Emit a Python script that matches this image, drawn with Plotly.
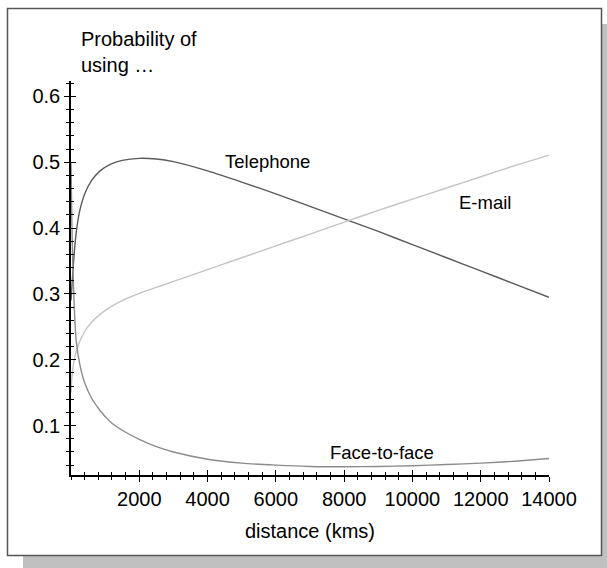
import plotly.graph_objects as go

# ---- data ----
distance = [0, 25, 50, 100, 150, 250, 400, 600, 850, 1150, 1500, 2000, 2500, 3000,
            4000, 5000, 6000, 7000, 8000, 9000, 10000, 11000, 12000, 13000, 14000]
telephone = [0.29, 0.31, 0.33, 0.365, 0.392, 0.425, 0.452, 0.472, 0.487, 0.497, 0.503, 0.506,
             0.505, 0.501, 0.487, 0.470, 0.452, 0.433, 0.414, 0.395, 0.375, 0.355, 0.335, 0.315, 0.295]
email = [0.15, 0.172, 0.185, 0.201, 0.212, 0.227, 0.243, 0.257, 0.269, 0.280, 0.290, 0.301,
         0.310, 0.319, 0.337, 0.355, 0.373, 0.391, 0.409, 0.427, 0.444, 0.461, 0.478, 0.495, 0.511]
face = [0.50, 0.41, 0.35, 0.275, 0.23, 0.195, 0.165, 0.142, 0.123, 0.106, 0.093, 0.079,
        0.068, 0.060, 0.049, 0.043, 0.040, 0.038, 0.0375, 0.038, 0.039, 0.041, 0.043, 0.046, 0.050]

series_names = ["Telephone", "E-mail", "Face-to-face"]
series_colors = ["#5a5a5a", "#c4c4c4", "#8c8c8c"]

x_ticks = [2000, 4000, 6000, 8000, 10000, 12000, 14000]
y_ticks = [0.1, 0.2, 0.3, 0.4, 0.5, 0.6]

FONT = "Liberation Sans, Arial, sans-serif"

W, H = 607, 568
ML, MR, MT, MB = 71, 58, 81, 93
PW = W - ML - MR
PH = H - MT - MB

def px_to_paper_x(px):
    return (px - ML) / PW

def py_to_paper_y(py):
    return (H - MB - py) / PH

fig = go.Figure()
# telephone on the main axes, the other two on the overlaid (inside-tick) axes
axes_for = [("x", "y"), ("x2", "y2"), ("x2", "y2")]
for name, ys, col, (xa, ya) in zip(series_names, [telephone, email, face], series_colors, axes_for):
    fig.add_trace(go.Scatter(x=distance, y=ys, mode="lines", name=name, xaxis=xa, yaxis=ya,
                             line=dict(color=col, width=1.4, shape="spline", smoothing=0.7),
                             showlegend=False, hoverinfo="skip"))

xr = [0, 14000]
yr = [0.025, 0.6235]

common_axis = dict(showgrid=False, zeroline=False, showline=True, linecolor="black",
                   linewidth=1.5, tickcolor="black", tickwidth=1.3, ticklen=5)
tickfont = dict(family=FONT, size=20, color="black")

fig.update_layout(
    width=W, height=H,
    margin=dict(l=ML, r=MR, t=MT, b=MB, pad=0),
    paper_bgcolor="white", plot_bgcolor="rgba(0,0,0,0)",
    font=dict(family=FONT, color="black"),
    xaxis=dict(range=xr, tickmode="array", tickvals=x_ticks,
               ticktext=[str(v) for v in x_ticks], ticks="outside", tickfont=tickfont,
               minor=dict(ticks="outside", ticklen=3, dtick=400, tick0=0,
                          tickcolor="black", tickwidth=1.3),
               title=dict(text="distance (kms)", font=dict(family=FONT, size=20), standoff=15),
               **common_axis),
    yaxis=dict(range=yr, tickmode="array", tickvals=y_ticks,
               ticktext=[f"{v:.1f}" for v in y_ticks], ticks="outside", tickfont=tickfont,
               minor=dict(ticks="outside", ticklen=3, dtick=0.02, tick0=0,
                          tickcolor="black", tickwidth=1.3),
               **common_axis),
    xaxis2=dict(range=xr, overlaying="x", anchor="y2", side="bottom", ticks="inside",
                tickmode="array", tickvals=x_ticks, showticklabels=False,
                minor=dict(ticks="inside", ticklen=3, dtick=400, tick0=0,
                           tickcolor="black", tickwidth=1.3),
                **common_axis),
    yaxis2=dict(range=yr, overlaying="y", anchor="x2", side="left", ticks="inside",
                tickmode="array", tickvals=y_ticks, showticklabels=False,
                minor=dict(ticks="inside", ticklen=3, dtick=0.02, tick0=0,
                           tickcolor="black", tickwidth=1.3),
                **common_axis),
)

# frame with drop shadow
fig.add_shape(type="rect", xref="paper", yref="paper", layer="below",
              x0=px_to_paper_x(23), x1=px_to_paper_x(620),
              y0=py_to_paper_y(580), y1=py_to_paper_y(24),
              fillcolor="#c0c0c0", line=dict(width=0))
fig.add_shape(type="rect", xref="paper", yref="paper", layer="below",
              x0=px_to_paper_x(7.5), x1=px_to_paper_x(601.5),
              y0=py_to_paper_y(555.5), y1=py_to_paper_y(8.5),
              fillcolor="white", line=dict(color="#555555", width=1.5))

# axis label at top-left
fig.add_annotation(xref="paper", yref="paper", x=px_to_paper_x(79), y=py_to_paper_y(78),
                   xanchor="left", yanchor="bottom", align="left", showarrow=False,
                   text="Probability of<br>using …",
                   font=dict(family=FONT, size=20, color="black"))

# series labels
label_pos = {"Telephone": (5745, 0.501), "E-mail": (12129, 0.439), "Face-to-face": (9098, 0.0595)}
for name in series_names:
    lx, ly = label_pos[name]
    fig.add_annotation(x=lx, y=ly, xref="x", yref="y", text=name, showarrow=False,
                       font=dict(family=FONT, size=18.5, color="black"))

fig.write_html("out.html")
